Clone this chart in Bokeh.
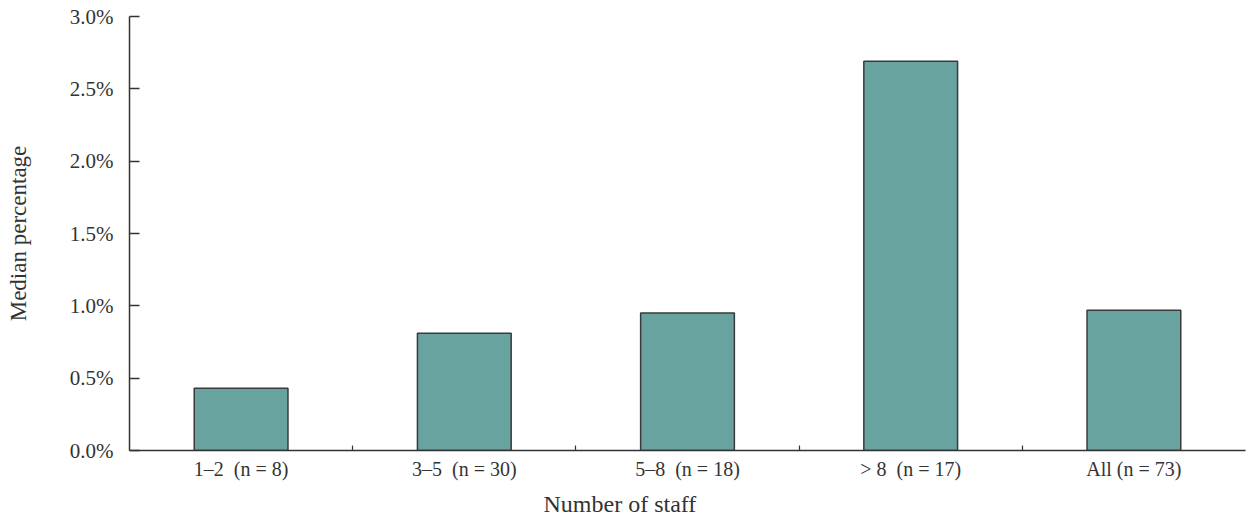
from bokeh.plotting import figure
from bokeh.models import ColumnDataSource, FixedTicker, PrintfTickFormatter, Title, Range1d
from bokeh.embed import file_html
from bokeh.resources import INLINE

categories = ["1–2\u00a0\u00a0(n = 8)", "3–5\u00a0\u00a0(n = 30)", "5–8\u00a0\u00a0(n = 18)",
              ">\u00a08\u00a0\u00a0(n = 17)", "All (n = 73)"]
values = [0.43, 0.81, 0.95, 2.69, 0.97]
y_ticks = [0.0, 0.5, 1.0, 1.5, 2.0, 2.5, 3.0]

xs = list(range(len(categories)))
source = ColumnDataSource(data=dict(x=xs, top=values, cat=categories))

FONT = "Liberation Serif"
TXT = "#333333"

p = figure(width=1248, height=524, output_backend="svg", toolbar_location=None,
           x_range=Range1d(-0.5, len(categories) - 0.5), y_range=Range1d(0, 3.0),
           min_border_left=129, min_border_right=3, min_border_top=16, min_border_bottom=74)
p.outline_line_color = None
p.xgrid.grid_line_color = None
p.ygrid.grid_line_color = None

p.vbar(x="x", top="top", width=0.42, source=source,
       fill_color="#68A3A0", line_color="#3a3a3a", line_width=1.5)

# y axis
ya = p.yaxis[0]
ya.ticker = FixedTicker(ticks=y_ticks)
ya.formatter = PrintfTickFormatter(format="%.1f%%")
ya.major_tick_in = 10
ya.major_tick_out = 0
ya.minor_tick_line_color = None
ya.axis_line_color = "#333333"
ya.axis_line_width = 1.5
ya.major_tick_line_color = "#333333"
ya.major_tick_line_width = 1.5
ya.major_label_text_font = FONT
ya.major_label_text_font_size = "21px"
ya.major_label_text_color = TXT
ya.major_label_standoff = 16
ya.axis_label = "Median percentage"
ya.axis_label_text_font = FONT
ya.axis_label_text_font_size = "23px"
ya.axis_label_text_font_style = "normal"
ya.axis_label_text_color = TXT
ya.axis_label_standoff = 36

# x axis
xa = p.xaxis[0]
xa.ticker = FixedTicker(ticks=xs, minor_ticks=[i + 0.5 for i in xs[:-1]])
xa.major_label_overrides = {i: c for i, c in zip(xs, categories)}
xa.major_tick_in = 0
xa.major_tick_out = 0
xa.minor_tick_in = 5
xa.minor_tick_out = 0
xa.minor_tick_line_color = "#333333"
xa.minor_tick_line_width = 1.2
xa.axis_line_color = "#333333"
xa.axis_line_width = 1.5
xa.major_label_text_font = FONT
xa.major_label_text_font_size = "20px"
xa.major_label_text_color = TXT
xa.major_label_standoff = 7

xtitle = Title(text="Number of staff", align="left", offset=414,
               text_font=FONT, text_font_size="24px", text_font_style="normal",
               text_color=TXT, standoff=12)
p.add_layout(xtitle, "below")

open("out.html", "w").write(file_html(p, INLINE))
